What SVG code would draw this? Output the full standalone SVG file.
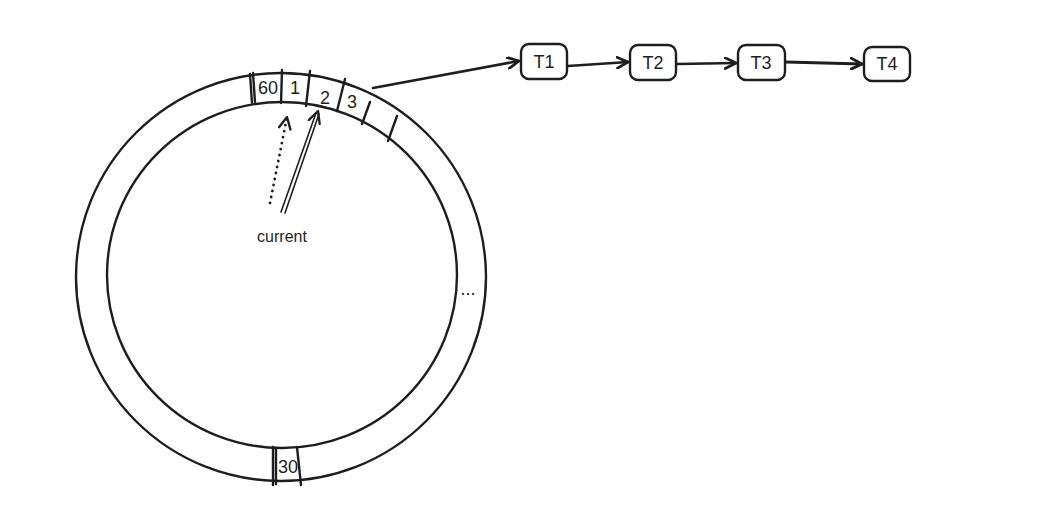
<svg xmlns="http://www.w3.org/2000/svg" width="1061" height="520" viewBox="0 0 1061 520">
<defs>
<marker id="ah" viewBox="0 0 12 12" refX="11" refY="6" markerWidth="13" markerHeight="13" markerUnits="userSpaceOnUse" orient="auto">
<path d="M1,1 L11,6 L1,11" fill="none" stroke="#1e1e1e" stroke-width="2.6" stroke-linecap="round" stroke-linejoin="round"/>
</marker>
<marker id="ahs" viewBox="0 0 12 12" refX="11" refY="6" markerWidth="14" markerHeight="14" markerUnits="userSpaceOnUse" orient="auto">
<path d="M1,1 L11,6 L1,11" fill="none" stroke="#1e1e1e" stroke-width="2" stroke-linecap="round" stroke-linejoin="round"/>
</marker>
</defs>
<style>
.ln{fill:none;stroke:#1e1e1e;stroke-width:2.4;stroke-linecap:round}
.box{fill:#fff;stroke:#1e1e1e;stroke-width:2.4}
.t{font-family:"Liberation Sans",Arial,sans-serif;font-size:18px;fill:#1e1e1e;text-anchor:middle}
.conn{fill:none;stroke:#1e1e1e;stroke-width:2.6;stroke-linecap:round}
</style>
<rect width="1061" height="520" fill="#fff"/>
<g id="wheel">
<ellipse cx="281" cy="277" rx="205" ry="204" class="ln"/>
<ellipse cx="282" cy="275" rx="175" ry="173" class="ln"/>
<path class="ln" d="M250,74 L252,103 M253,73 L255,102 M282,70 L281,103 M310,71 L306,106 M345,79 L337,111 M370,102 L362,124 M397,116 L388,141"/>
<path class="ln" d="M273,447 L273,485 M276,448 L276,484 M297,447 L301,485"/>
</g>
<g id="labels">
<text class="t" x="268" y="94">60</text>
<text class="t" x="295" y="94">1</text>
<text class="t" x="325" y="104">2</text>
<text class="t" x="352" y="108">3</text>
<text class="t" x="288" y="473">30</text>
<text class="t" x="468" y="295">...</text>
<text class="t" x="282" y="242" style="font-size:16px">current</text>
</g>
<g id="T1"><rect class="box" x="521" y="44" width="46" height="35" rx="8"/><text class="t" x="544" y="68">T1</text></g>
<g id="T2"><rect class="box" x="630" y="45" width="46" height="35" rx="8"/><text class="t" x="653" y="69">T2</text></g>
<g id="T3"><rect class="box" x="738" y="45" width="47" height="35" rx="8"/><text class="t" x="761" y="69">T3</text></g>
<g id="T4"><rect class="box" x="864" y="47" width="46" height="34" rx="8"/><text class="t" x="887" y="70">T4</text></g>
<g id="connectors">
<path class="conn" d="M373,88 L519,61" marker-end="url(#ah)"/>
<path class="conn" d="M568,66 L628,62" marker-end="url(#ah)"/>
<path class="conn" d="M677,64 L736,63" marker-end="url(#ah)"/>
<path class="conn" d="M786,62 L862,64" style="stroke-width:3.2" marker-end="url(#ah)"/>
<path class="conn" d="M281,212 L316,113 M285,213 L319,114" style="stroke-width:1.6"/>
<path class="conn" d="M283,212 L318,111" style="stroke-width:0.1;stroke-opacity:0" marker-end="url(#ahs)"/>
<path class="conn" d="M270,203 L287,117" style="stroke-dasharray:0.1 6;stroke-width:2.8" marker-end="url(#ahs)"/>
</g>
</svg>
